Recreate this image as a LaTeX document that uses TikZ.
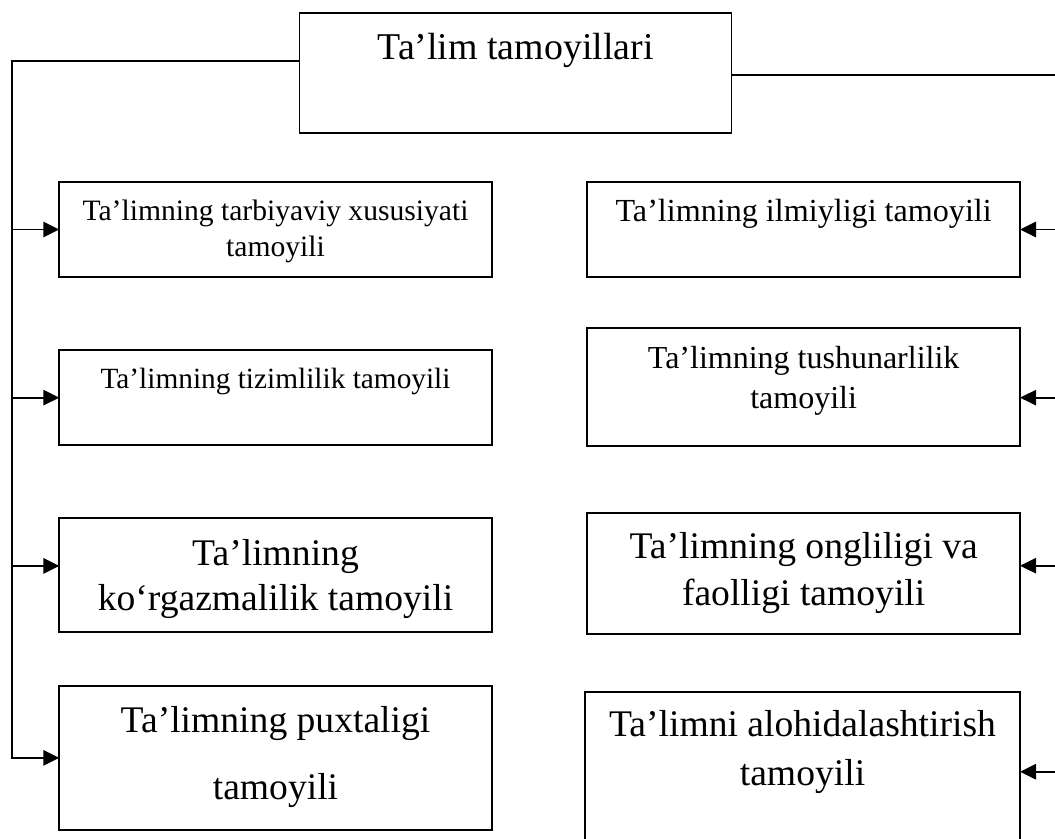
\documentclass[tikz,border=0pt]{standalone}
\usepackage{fontspec}
\setmainfont{Liberation Serif}
\usetikzlibrary{arrows.meta,calc}
\newdimen\pxu \pxu=0.75pt
% #1 width px, #2 height px, #3 font size, #4 baselineskip, #5 top gap px, #6 text
\newcommand{\bxt}[6]{\parbox[t][#2\pxu][t]{#1\pxu}{\centering\fontsize{#3}{#4}\selectfont\vspace*{#5\pxu}\rule{0pt}{0.9\dimexpr#3\relax}#6\par}}
\tikzset{
  bx/.style={draw, line width=1.4pt, inner sep=0pt, outer sep=0pt, anchor=north west},
  conn/.style={line width=1.4pt},
  arr/.style={conn, -{Triangle[length=12pt,width=11.5pt]}}
}
\begin{document}
\begin{tikzpicture}[x=0.75pt,y=-0.75pt]
\useasboundingbox (0,0) rectangle (1055,838);
\clip (0,0) rectangle (1055,838);
\fill[white] (0,0) rectangle (1055,838);

\node[bx] (t) at (299.5,13.3) {\bxt{432}{120}{28.4pt}{34pt}{12.0}{Ta’lim tamoyillari}};

\node[bx] (l1) at (59.3,181.7) {\bxt{432.4}{95.6}{22.2pt}{27pt}{11.66}{Ta’limning tarbiyaviy xususiyati\\tamoyili}};
\node[bx] (l2) at (59.3,350) {\bxt{432.4}{95.3}{22pt}{26.4pt}{11.9}{Ta’limning tizimlilik tamoyili}};
\node[bx] (l3) at (59.3,518.3) {\bxt{432.4}{113.4}{28.2pt}{33.75pt}{12.86}{Ta’limning\\ko‘rgazmalilik tamoyili}};
\node[bx] (l4) at (59.3,685.7) {\bxt{432.4}{144.3}{28.2pt}{50.03pt}{13.16}{Ta’limning puxtaligi\\tamoyili}};

\node[bx] (r1) at (587.3,181.7) {\bxt{432.7}{95.6}{24.1pt}{29pt}{11.08}{Ta’limning ilmiyligi tamoyili}};
\node[bx] (r2) at (587.3,327.7) {\bxt{432.7}{118}{24pt}{30pt}{11.8}{Ta’limning tushunarlilik\\tamoyili}};
\node[bx] (r3) at (587.3,513.3) {\bxt{432.7}{121}{28.2pt}{35.03pt}{11.16}{Ta’limning ongliligi va\\faolligi tamoyili}};
\node[bx] (r4) at (585,691.7) {\bxt{435}{160}{28.2pt}{36.23pt}{11.16}{Ta’limni alohidalashtirish\\tamoyili}};

\coordinate (lt) at (11.7,61);
\coordinate (rt) at (1062,75);
\coordinate (l3a) at ($(l3.north west)!0.42!(l3.south west)$);
\coordinate (r2a) at ($(r2.north east)!0.593!(r2.south east)$);
\coordinate (r3a) at ($(r3.north east)!0.433!(r3.south east)$);

\draw[arr] (t.west |- lt) -- (lt) -- (lt |- l4.west) -- (l4.west);
\draw[arr] (lt |- l1.west) -- (l1.west);
\draw[arr] (lt |- l2.west) -- (l2.west);
\draw[arr] (lt |- l3a) -- (l3a);

\draw[arr] (t.east |- rt) -- (rt) -- (rt |- r4.east) -- (r4.east);
\draw[arr] (rt |- r1.east) -- (r1.east);
\draw[arr] (rt |- r2a) -- (r2a);
\draw[arr] (rt |- r3a) -- (r3a);
\end{tikzpicture}
\end{document}
